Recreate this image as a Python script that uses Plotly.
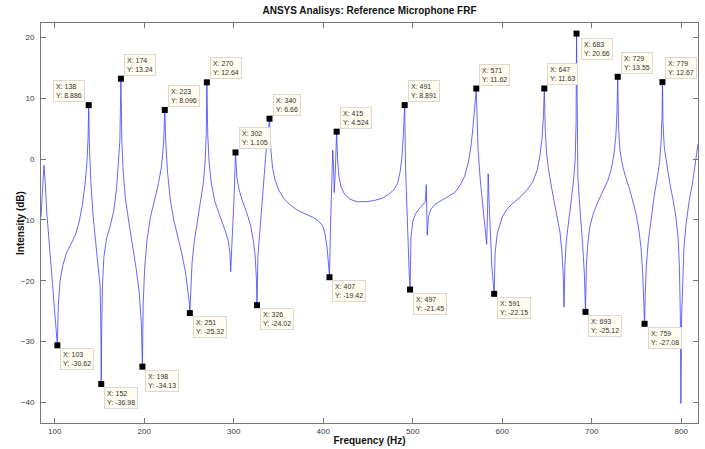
import plotly.graph_objects as go

# ---- curve ----
freq = [84.7, 86.5, 88, 89.5, 91, 94, 97, 100, 102, 103, 104, 106, 109, 113, 118, 123, 127, 131, 134, 136,
        137.3, 138, 138.8, 140.5, 143, 146, 149, 150.8, 151.6, 152, 152.5, 153.4, 155, 158, 162, 166, 169, 171,
        172.8, 174, 175, 176.5, 179, 183, 187, 191, 194.5, 196.8, 198, 198.8, 200.5, 203, 207, 212, 216, 219.5,
        221.8, 223, 224, 226, 229, 233, 238, 242, 246, 249, 250.3, 251, 251.8, 253.5, 256, 259, 263, 266, 268,
        269.3, 270, 271, 272.5, 275, 279, 284, 288, 291, 294, 295.8, 296.6, 297.5, 299, 300.5, 302, 303.5, 306,
        310, 315, 319, 322, 324, 325.3, 326, 327, 329, 331, 333.5, 336, 338.5, 340, 341.5, 343.5, 346, 350, 356,
        363, 371, 380, 389, 395, 399.5, 402, 404, 405.5, 407, 408, 409.3, 410.6, 411.5, 412.3, 413.5, 415, 416,
        417.5, 420, 424, 430, 438, 448, 457, 466, 473, 479, 483, 486, 488, 489.5, 491, 492, 493.3, 494.8, 496,
        497, 498, 500, 503, 507, 511, 514, 515.2, 516.2, 517.5, 520, 525, 532, 540, 547, 553, 558, 562, 565,
        567.5, 569.8, 571, 572, 573, 575.5, 578.5, 581, 582.6, 583.5, 584.3, 585.3, 586.5, 588.3, 590, 591, 592,
        594.5, 600, 605, 610, 616, 622, 628, 634, 639, 642, 644.5, 646, 647, 648, 649.5, 651.5, 655, 659, 662,
        664.5, 666.5, 668, 669, 670, 671.5, 674, 677, 679.5, 681.5, 682.5, 683, 683.6, 684.5, 686, 688, 690,
        691.8, 693, 694, 695.5, 698, 702, 707, 713, 718, 722, 725, 727, 728.2, 729, 730, 731.5, 734, 737.5, 742,
        746, 749.5, 752.5, 755, 757, 758.3, 759, 759.8, 761, 763, 766, 769.5, 773, 775.8, 777.5, 778.5, 779,
        779.6, 781, 783.5, 787, 791, 794, 796.5, 798, 799, 799.6, 800.4, 801.5, 803, 805.5, 809, 812.5, 815.5,
        818.7]
level = [-9.5, -4.5, -1.0, -4, -8.5, -14, -19.5, -24.5, -28, -30.62, -24, -20, -17.5, -15.5, -14, -12.5, -10.5,
         -7.5, -4, -0.5, 3.5, 8.886, 2, -4, -9.5, -13.5, -17.5, -21, -28, -36.98, -28, -20.5, -16, -13, -11,
         -8.5, -5, -1.5, 3, 13.24, 3, -2, -6.5, -10.5, -14, -18, -22, -27, -34.13, -24, -18, -13.5, -9.5, -6.5,
         -4, -1, 3, 8.096, 3, -2, -6.5, -10, -13, -15.5, -18.5, -21.5, -23.5, -25.32, -21.5, -17, -13.5, -10.5,
         -7, -4, -0.5, 4, 12.64, 4, -0.5, -4, -7, -9, -10.5, -12, -13.5, -15.5, -18.5, -16, -12, -6, 1.105, -3,
         -5, -7, -9, -11, -13.5, -16, -19.5, -24.02, -16, -12, -8, -3.5, 1, 4.5, 6.66, 1.5, -1.5, -3.3, -5, -6.5,
         -7.5, -8.4, -9, -9.6, -10.2, -11, -12.3, -14.2, -16.5, -19.42, -12, -5.5, 1.5, -1, -5.5, -2, 4.524, 0,
         -2.8, -4.6, -5.8, -6.6, -7, -7, -6.8, -6.4, -5.8, -5, -4, -2, 0.5, 4, 8.891, -1.5, -8, -14.5, -18.5,
         -21.45, -13, -10.3, -9, -8.2, -7.6, -7, -4.2, -12.5, -9.6, -8.3, -7.4, -6.8, -6.2, -5.5, -4.3, -2.8,
         -0.6, 2, 5.5, 9, 11.62, 6.5, 1.5, -3.5, -7.8, -11.5, -14, -9, -2.4, -7, -12, -17.5, -20.5, -22.15, -15.5,
         -12.2, -9.5, -8.3, -7.5, -6.8, -6, -5, -3.8, -1.8, 0.5, 3.5, 7, 11.63, 5, 1, -1.5, -4.6, -7.5, -9.6,
         -12, -15, -18.5, -24.3, -17.5, -13.5, -10.5, -7.5, -3.8, 0, 6, 20.66, 3, -3, -6.5, -10, -14.5, -19,
         -25.12, -17.5, -14, -11, -8.8, -7, -5.2, -3.5, -1.5, 1, 4, 8, 13.55, 5, 1.5, -0.8, -2.8, -4.8, -7, -9,
         -11.5, -14.5, -19, -23, -27.08, -22, -17.5, -13.8, -10, -6.3, -3.2, -0.5, 3, 7, 12.67, 6, 2, -0.8,
         -3.8, -6.8, -9.5, -13, -18, -26, -40.2, -26, -19, -14.5, -10.5, -6.7, -4, -1, 2.5]

# ---- data tips ----
peak_x = [138, 174, 223, 270, 302, 340, 415, 491, 571, 647, 683, 729, 779]
peak_y = [8.886, 13.24, 8.096, 12.64, 1.105, 6.66, 4.524, 8.891, 11.62, 11.63, 20.66, 13.55, 12.67]
trough_x = [103, 152, 198, 251, 326, 407, 497, 591, 693, 759]
trough_y = [-30.62, -36.98, -34.13, -25.32, -24.02, -19.42, -21.45, -22.15, -25.12, -27.08]

x_ticks = [100, 200, 300, 400, 500, 600, 700, 800]
y_ticks = [-40, -30, -20, -10, 0, 10, 20]

FONT = "Liberation Sans, Arial, sans-serif"

fig = go.Figure()
fig.add_trace(go.Scatter(x=freq, y=level, mode="lines",
                         line=dict(color="#4040ff", width=0.8), hoverinfo="skip"))
fig.add_trace(go.Scatter(x=peak_x + trough_x, y=peak_y + trough_y, mode="markers",
                         marker=dict(symbol="square", size=6, color="black"), hoverinfo="skip"))

ann_font = dict(family=FONT, size=7, color="#333333")
anns = []
def tip(x, y, xanchor, yanchor, xs, ys):
    anns.append(dict(x=x, y=y, xref="x", yref="y", showarrow=False,
                     text=f"X: {x}<br>Y: {y:.4g}", align="left",
                     xanchor=xanchor, yanchor=yanchor, xshift=xs, yshift=ys,
                     font=ann_font, bgcolor="#fffbee", bordercolor="#dcdad0",
                     borderwidth=1, borderpad=2))

for x, y in zip(peak_x, peak_y):
    if x == 138:
        tip(x, y, "right", "bottom", -4, 3)
    elif x == 683:
        tip(x, y, "left", "top", 4, -4)
    else:
        tip(x, y, "left", "bottom", 3, 3)
for x, y in zip(trough_x, trough_y):
    tip(x, y, "left", "top", 3, -3)

# y-axis label placed as rotated annotation
anns.append(dict(text="<b>Intensity (dB)</b>", xref="paper", yref="paper", x=0, y=0.5,
                 xanchor="center", yanchor="middle", xshift=-21, textangle=-90, showarrow=False,
                 font=dict(family=FONT, size=10, color="#111111")))

axis_common = dict(showgrid=False, zeroline=False, showline=True, linecolor="#777777",
                   linewidth=1, mirror="ticks", ticks="inside", ticklen=5, automargin=False,
                   tickcolor="#777777", tickfont=dict(family=FONT, size=8, color="#3a3a4a"))

fig.update_layout(
    width=705, height=449,
    margin=dict(l=41, r=7, t=23, b=26),
    paper_bgcolor="white", plot_bgcolor="white",
    showlegend=False,
    title=dict(text="<b>ANSYS Analisys: Reference Microphone FRF</b>",
               x=0.5, xref="paper", xanchor="center", y=1 - 10 / 449, yref="container",
               yanchor="middle", font=dict(family=FONT, size=10, color="#111111")),
    xaxis=dict(range=[84.7, 818.7], tickvals=x_ticks,
               title=dict(text="<b>Frequency (Hz)</b>", standoff=2,
                          font=dict(family=FONT, size=10, color="#111111")),
               **axis_common),
    yaxis=dict(range=[-43.4, 22.4], tickvals=y_ticks, ticklabelstandoff=4,
               **axis_common),
    annotations=anns,
)

fig.write_html("out.html", config={"displayModeBar": False},
               post_script="document.body.style.margin='0';")
